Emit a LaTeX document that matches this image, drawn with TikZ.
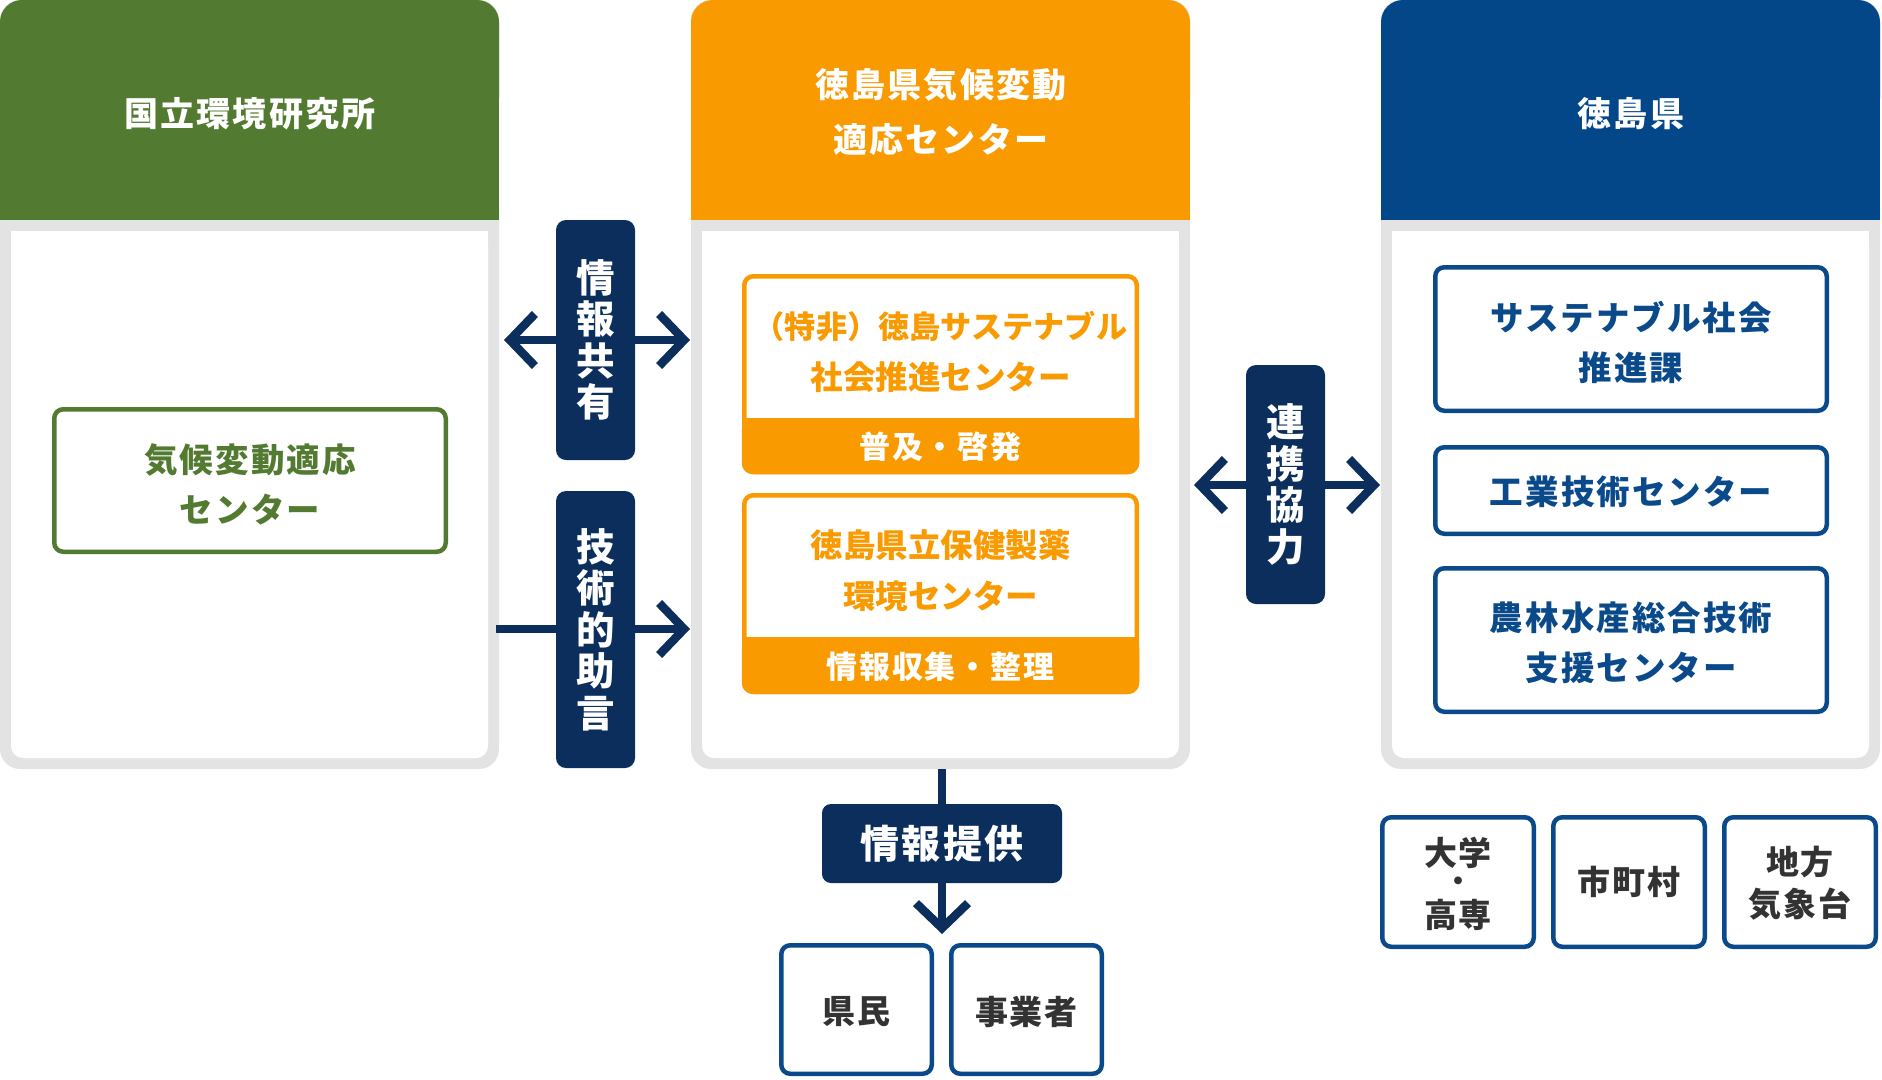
\documentclass[tikz,border=0pt]{standalone}
\usepackage{fontspec}
\setmainfont{Noto Sans CJK JP}
\newfontfamily\jpsp{Noto Sans CJK JP}[LetterSpace=6]
\usetikzlibrary{arrows.meta}
\definecolor{hg}{HTML}{527A30}
\definecolor{ho}{HTML}{F99A00}
\definecolor{hb}{HTML}{034789}
\definecolor{nv}{HTML}{0B2E5C}
\definecolor{bb}{HTML}{0B4A8A}
\definecolor{pg}{HTML}{E3E3E3}
\definecolor{tx}{HTML}{333333}
\tikzset{
  txt/.style={inner sep=0pt, align=center},
  hdrtxt/.style={txt, text=white, font={\jpsp\bfseries\fontsize{34}{55}\selectfont}},
  vlab/.style={fill=nv, rounded corners=10pt, inner sep=0pt, minimum width=79pt},
  vtxt/.style={txt, text=white, font={\bfseries\fontsize{38.5}{41.5}\selectfont}},
  bbox/.style={draw=bb, line width=4.5pt, fill=white, rounded corners=9pt, inner sep=0pt},
  gbox/.style={draw=hg, line width=4.5pt, fill=white, rounded corners=9pt, inner sep=0pt},
  obox/.style={draw=ho, line width=4.5pt, fill=white, rounded corners=9pt, inner sep=0pt, minimum width=392.5pt},
  btxt/.style={txt, text=bb, font={\jpsp\bfseries\fontsize{33.5}{50}\selectfont}},
  gtxt/.style={txt, text=hg, font={\jpsp\bfseries\fontsize{33.5}{50}\selectfont}},
  otxt/.style={txt, text=ho, font={\bfseries\fontsize{32.5}{51}\selectfont}},
  bandtxt/.style={txt, text=white, font={\jpsp\bfseries\fontsize{31}{40}\selectfont}},
  dtxt/.style={txt, text=tx, font={\jpsp\bfseries\fontsize{33}{42}\selectfont}},
  conn/.style={draw=nv, line width=8.5pt},
}
\begin{document}
\begin{tikzpicture}[x=1pt,y=-1pt, >={Straight Barb[length=25pt,width=52pt]}]
\useasboundingbox (0,0) rectangle (1882,1079);
% ---------- panels ----------
% left
\fill[pg, rounded corners=20pt] (0,0) rectangle (499,769);
\fill[hg, rounded corners=22pt] (0,0) rectangle (499,120);
\fill[hg] (0,60) rectangle (499,220);
\fill[white, rounded corners=12pt] (11,231) rectangle (488,758);
\fill[white] (11,231) rectangle (488,300);
% middle
\fill[pg, rounded corners=20pt] (691,0) rectangle (1190,769);
\fill[ho, rounded corners=22pt] (691,0) rectangle (1190,120);
\fill[ho] (691,60) rectangle (1190,220);
\fill[white, rounded corners=12pt] (702,231) rectangle (1179,758);
\fill[white] (702,231) rectangle (1179,300);
% right
\fill[pg, rounded corners=20pt] (1381,0) rectangle (1880,769);
\fill[hb, rounded corners=22pt] (1381,0) rectangle (1880,120);
\fill[hb] (1381,60) rectangle (1880,220);
\fill[white, rounded corners=12pt] (1392,231) rectangle (1869,758);
\fill[white] (1392,231) rectangle (1869,300);
% header texts
\node[hdrtxt] (hl) at (250,114) {国立環境研究所};
\node[hdrtxt] (hm) at (941,112) {徳島県気候変動\\適応センター};
\node[hdrtxt] (hr) at (1631,114) {徳島県};
% ---------- left content ----------
\node[gbox, minimum width=391.5pt, minimum height=142.5pt] (kiko) at (250,480.5) {};
\node[gtxt] (kikot) at (250,484) {気候変動適応\\センター};
% ---------- middle content ----------
\node[obox, minimum height=195.5pt] (ngo) at (940.5,374) {};
\fill[ho, rounded corners=11pt] (741.75,418) rectangle (1139.25,474.25);
\fill[ho] (741.75,418) rectangle (1139.25,440);
\node[otxt] (ngot) at (940.5,352) {{\fontsize{31.2}{51}\selectfont（特非）徳島サステナブル}\\社会推進センター};
\node[bandtxt] (ngob) at (940.5,447) {普及・啓発};
\node[obox, minimum height=196.5pt] (lab) at (940.5,593.5) {};
\fill[ho, rounded corners=11pt] (741.75,637) rectangle (1139.25,694);
\fill[ho] (741.75,637) rectangle (1139.25,660);
\node[otxt] (labt) at (940.5,571) {徳島県立保健製薬\\環境センター};
\node[bandtxt] (labb) at (940.5,667) {情報収集・整理};
% ---------- right content ----------
\node[bbox, minimum width=391.5pt, minimum height=143.5pt] (rA) at (1631,339) {};
\node[btxt] at (1631,342) {サステナブル社会\\推進課};
\node[bbox, minimum width=391.5pt, minimum height=86.5pt] (rB) at (1631,490.5) {};
\node[btxt] at (1631,492) {工業技術センター};
\node[bbox, minimum width=391.5pt, minimum height=143.5pt] (rC) at (1631,640) {};
\node[btxt] at (1631,643) {農林水産総合技術\\支援センター};
% bottom right
\node[bbox, minimum width=151.5pt, minimum height=129.5pt] (univ) at (1458,882) {};
\node[dtxt] (univa) at (1458,853) {大学};
\node[dtxt, font={\bfseries\fontsize{28}{28}\selectfont}] (univb) at (1458,884) {・};
\node[dtxt] (univc) at (1458,914.5) {高専};
\node[bbox, minimum width=151.5pt, minimum height=129.5pt] (muni) at (1629,882) {};
\node[dtxt] at (muni) {市町村};
\node[bbox, minimum width=151.5pt, minimum height=129.5pt] (met) at (1800,882) {};
\node[dtxt] at (1800,883) {地方\\気象台};
% ---------- connectors ----------
\coordinate (shareL) at (504,340);
\coordinate (shareR) at (690,340);
\coordinate (advL) at (496,629);
\coordinate (advR) at (690,629);
\coordinate (coopL) at (1194,485);
\coordinate (coopR) at (1380,485);
\coordinate (midB) at (942,769);
\draw[conn, <->] (shareL) -- (shareR);
\draw[conn, ->] (advL) -- (advR);
\draw[conn, <->] (coopL) -- (coopR);
% vertical labels
\node[vlab, minimum height=240pt] (share) at (595.5,340) {};
\node[vtxt] at (share) {情\\報\\共\\有};
\node[vlab, minimum height=277pt] (adv) at (595.5,629.5) {};
\node[vtxt] at (adv) {技\\術\\的\\助\\言};
\node[vlab, minimum height=239pt] (coop) at (1285.5,484.5) {};
\node[vtxt] at (coop) {連\\携\\協\\力};
% info provision
\node[fill=nv, rounded corners=9pt, inner sep=0pt, minimum width=240pt, minimum height=79pt] (prov) at (942,843.5) {};
\node[txt, text=white, font={\jpsp\bfseries\fontsize{39}{40}\selectfont}] at (prov) {情報提供};
\coordinate (provTip) at (942,934);
\draw[conn] (midB) -- (prov.north);
\draw[conn, ->] (prov.south) -- (provTip);
% residents / businesses
\node[bbox, minimum width=150.5pt, minimum height=128.5pt] (kenmin) at (856.5,1009.5) {};
\node[dtxt] at (856.5,1012) {県民};
\node[bbox, minimum width=150.5pt, minimum height=128.5pt] (jigyo) at (1026.5,1009.5) {};
\node[dtxt] at (1026.5,1012) {事業者};
\end{tikzpicture}
\end{document}
